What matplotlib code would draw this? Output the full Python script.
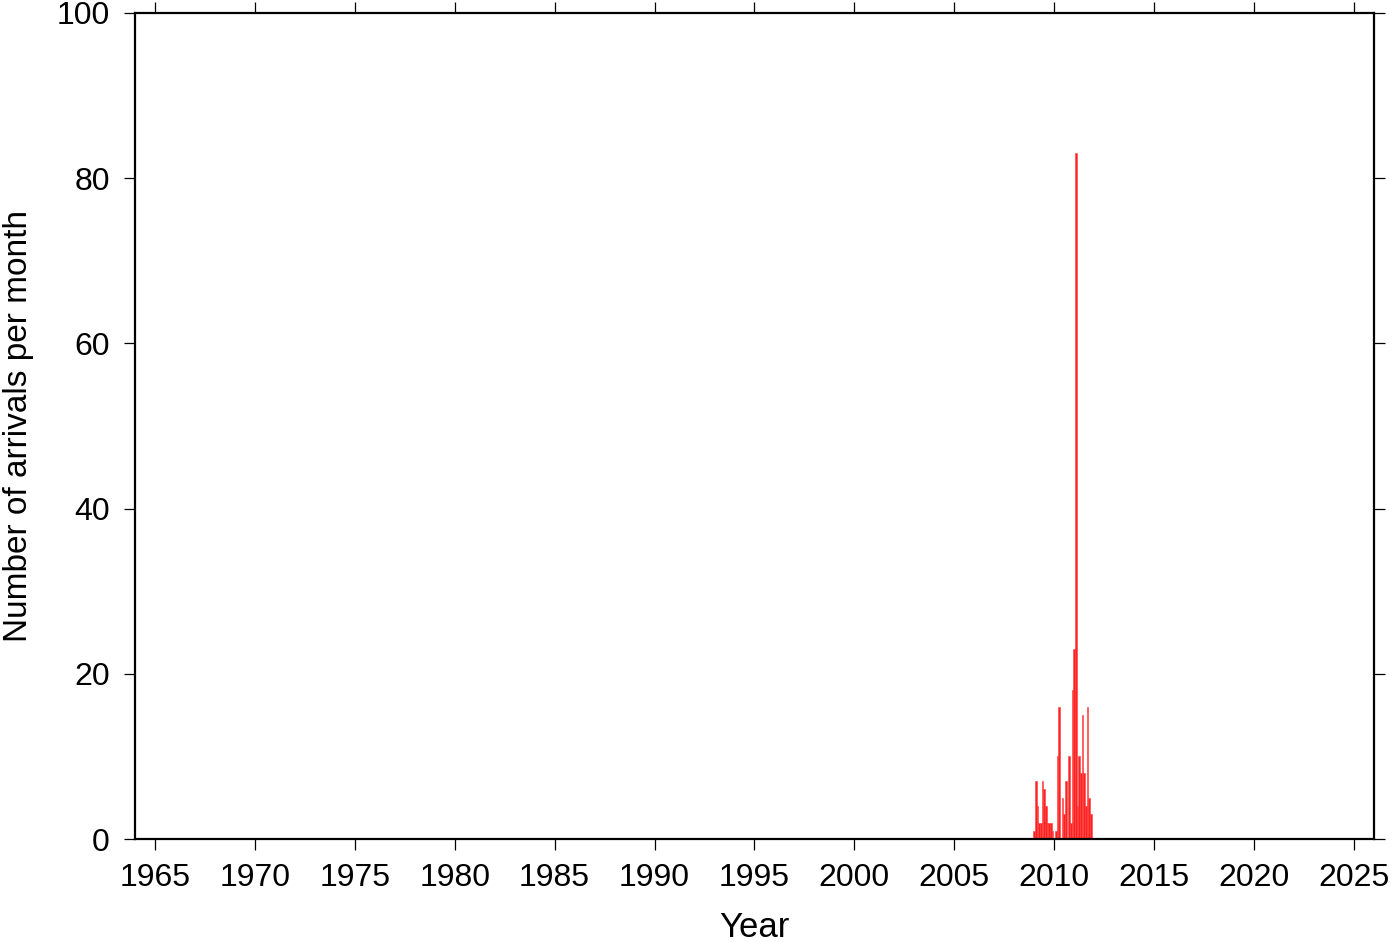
import numpy as np
import matplotlib
matplotlib.use('Agg')
import matplotlib.pyplot as plt

plt.rcParams['font.family'] = ['Liberation Sans', 'DejaVu Sans']

# monthly arrival counts, Jan 2009 .. Nov 2011
start_year = 2009
counts = [1, 7, 4, 2, 2, 7, 6, 4, 2, 2, 2, 1,
          0, 1, 10, 16, 0, 5, 3, 7, 0, 10, 2, 18,
          23, 83, 4, 10, 8, 15, 8, 4, 16, 5, 3]
months = start_year + np.arange(len(counts)) / 12.0

xticks = list(range(1965, 2030, 5))
yticks = list(range(0, 120, 20))

fig = plt.figure(figsize=(14, 9.42), dpi=100)
ax = fig.add_axes([0.0964, 0.1093, 0.885, 0.877])

ax.bar(months - 0.04, counts, width=1 / 12.0, align='edge', color='#ff2020',
       edgecolor='#ff4040', linewidth=0.4)

ax.set_xlim(1964, 2026)
ax.set_ylim(0, 100)
ax.set_xticks(xticks)
ax.set_yticks(yticks)

for s in ax.spines.values():
    s.set_linewidth(1.6)

ax.tick_params(axis='both', direction='out', length=8, width=0.9,
               labelsize=23, top=True, right=True)
ax.tick_params(axis='x', pad=9)
ax.tick_params(axis='y', pad=10)

ax.set_xlabel('Year', fontsize=25, labelpad=13)
ax.set_ylabel('Number of arrivals per month', fontsize=24, labelpad=16)

fig.savefig('out.png', dpi=100)
